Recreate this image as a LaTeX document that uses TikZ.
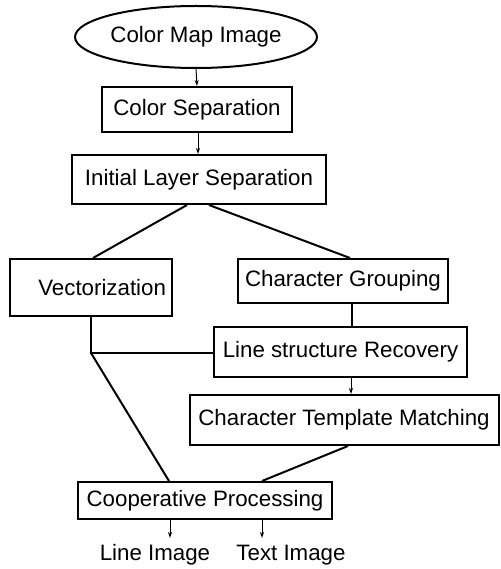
\documentclass[tikz,border=0pt]{standalone}
\usepackage{fontspec}
\setmainfont{Liberation Sans}
\usetikzlibrary{shapes.geometric,arrows.meta}
\begin{document}
\begin{tikzpicture}[x=1pt,y=-1pt,
  every node/.style={font=\fontsize{22.3}{26}\selectfont, inner sep=0pt},
  box/.style={draw, line width=2pt, rectangle},
  oval/.style={draw, line width=2pt, ellipse},
  link/.style={line width=2pt},
  arr/.style={line width=1pt, -{Stealth[length=6pt,width=4pt]}},
  lbl/.style={inner sep=0pt}]
\useasboundingbox (0,0) rectangle (500,569);
\node[oval, minimum width=198pt, minimum height=62pt] (cmi) at (196,37) {Color Map Image};
\node[box, minimum width=190pt, minimum height=45pt] (cs) at (197,109.5) {Color Separation};
\node[box, minimum width=253.5pt, minimum height=49pt] (ils) at (199,179.5) {Initial Layer Separation};
\node[box, minimum width=162pt, minimum height=57pt, text width=150pt, align=right, inner xsep=6pt] (vec) at (91,287.5) {Vectorization};
\node[box, minimum width=209.5pt, minimum height=44pt] (cg) at (343,281) {Character Grouping};
\node[box, minimum width=253pt, minimum height=50pt] (lsr) at (340.5,352) {Line structure Recovery};
\node[box, minimum width=309pt, minimum height=50pt] (ctm) at (344,420) {Character Template Matching};
\node[box, minimum width=254pt, minimum height=37pt] (coop) at (205,500.5) {Cooperative Processing};
\node[lbl, anchor=base] (li) at (155,560) {Line Image};
\node[lbl, anchor=base] (ti) at (291,560) {Text Image};
\coordinate (j) at (91,353);
\coordinate (liend) at (170,538);
\coordinate (tiend) at (262,538);
\draw[arr] (cmi.south) -- (cs.north);
\draw[arr] ([xshift=1pt]cs.south) -- ([xshift=1pt]cs.south |- ils.north);
\draw[link] ([xshift=-12pt]ils.south) -- ([xshift=2pt]vec.north);
\draw[link] ([xshift=10pt]ils.south) -- ([xshift=7pt]cg.north);
\draw[link] ([xshift=9pt]cg.south) -- ([xshift=9pt]cg.south |- lsr.north);
\draw[link] (vec.south) -- (j) -- (j -| lsr.west);
\draw[link] (j) -- ([xshift=-36pt]coop.north);
\draw[arr] ([xshift=10.5pt]lsr.south) -- ([xshift=10.5pt]lsr.south |- ctm.north);
\draw[link] ([xshift=4pt]ctm.south) -- ([xshift=57pt]coop.north);
\draw[arr] (coop.south -| liend) -- (liend);
\draw[arr] (coop.south -| tiend) -- (tiend);
\end{tikzpicture}
\end{document}
